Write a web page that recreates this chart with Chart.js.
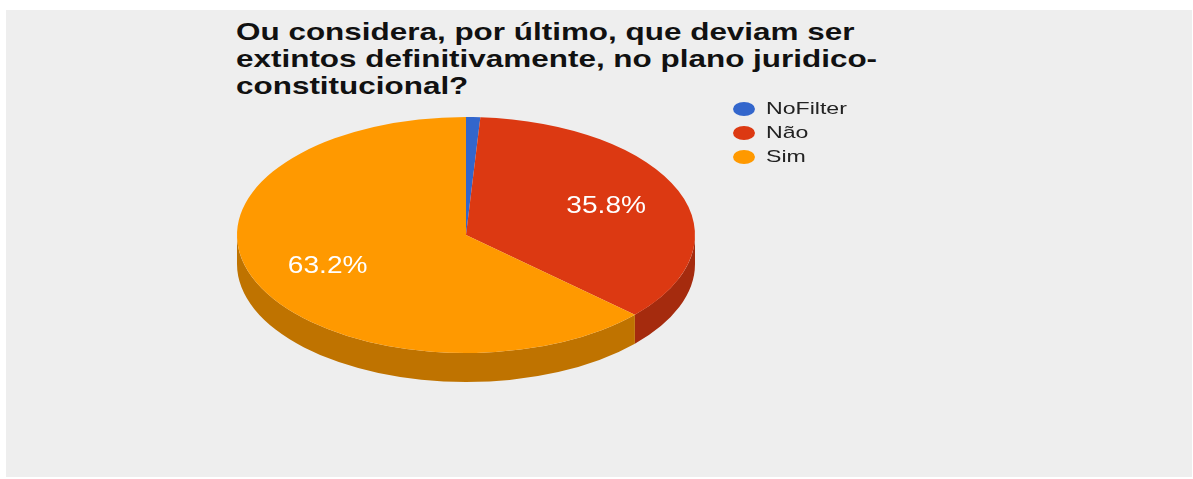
<!DOCTYPE html>
<html>
<head>
<meta charset="utf-8">
<script src="https://cdn.jsdelivr.net/npm/chart.js@4.4.0/dist/chart.umd.min.js"></script>
<style>
  html, body { margin: 0; padding: 0; background: #fff; }
  #frame { position: absolute; left: 6px; top: 10px; width: 1186px; height: 467px; background: #eeeeee; }
  #title { position: absolute; left: 236px; top: 18px; font: bold 24px "Liberation Sans", Arial, sans-serif;
           line-height: 27px; color: #111; white-space: nowrap;
           transform: scaleX(1.31); transform-origin: left top; }
  #c { position: absolute; left: 0; top: 0; }
</style>
</head>
<body>
<div id="frame"></div>
<div id="title">Ou considera, por último, que deviam ser<br>extintos definitivamente, no plano juridico-<br>constitucional?</div>
<canvas id="c" width="1193" height="479"></canvas>
<script>
// ---- dados ----
const labels = ['NoFilter', 'Não', 'Sim'];
const values = [1.0, 35.8, 63.2];

// ---- estilo ----
const topColors = ['#3366cc', '#dc3912', '#ff9900'];
const sideColors = ['#264c99', '#a52b0e', '#bf7300'];
const squash = 118 / 229;   // ellipse ratio of the tilted pie
const depth = 29;           // thickness of the 3d wall

// 3D: draw side walls, then squash the top face
const pie3d = {
  id: 'pie3d',
  beforeDatasetsDraw(chart) {
    const ctx = chart.ctx;
    const arcs = chart.getDatasetMeta(0).data;
    ctx.save();
    arcs.forEach((arc, i) => {
      const p = arc.getProps(['x', 'y', 'startAngle', 'endAngle', 'outerRadius']);
      const a0 = Math.max(p.startAngle, 0);
      const a1 = Math.min(p.endAngle, Math.PI);
      if (a1 <= a0) return;
      ctx.beginPath();
      ctx.ellipse(p.x, p.y, p.outerRadius, p.outerRadius * squash, 0, a0, a1, false);
      ctx.ellipse(p.x, p.y + depth, p.outerRadius, p.outerRadius * squash, 0, a1, a0, true);
      ctx.closePath();
      ctx.fillStyle = sideColors[i];
      ctx.fill();
    });
    ctx.restore();
    const c = arcs[0].getProps(['x', 'y']);
    ctx.save();
    ctx.translate(c.x, c.y);
    ctx.scale(1, squash);
    ctx.translate(-c.x, -c.y);
  },
  afterDatasetsDraw(chart) {
    const ctx = chart.ctx;
    ctx.restore();
    // etiquetas de percentagem
    const arcs = chart.getDatasetMeta(0).data;
    const total = values.reduce((a, b) => a + b, 0);
    ctx.save();
    ctx.fillStyle = '#ffffff';
    ctx.font = '24px "Liberation Sans", Arial, sans-serif';
    ctx.textAlign = 'center';
    ctx.textBaseline = 'middle';
    arcs.forEach((arc, i) => {
      const pct = values[i] / total * 100;
      if (pct < 5) return;
      const p = arc.getProps(['x', 'y', 'startAngle', 'endAngle', 'outerRadius']);
      const mid = (p.startAngle + p.endAngle) / 2;
      const r = p.outerRadius * 0.66;
      const x = p.x + Math.cos(mid) * r;
      const y = p.y + Math.sin(mid) * r * squash;
      ctx.save();
      ctx.translate(x, y);
      ctx.scale(1.17, 1);
      ctx.fillText(pct.toFixed(1) + '%', 0, 0);
      ctx.restore();
    });
    ctx.restore();
  }
};

// legenda
const legend3d = {
  id: 'legend3d',
  afterDraw(chart) {
    const ctx = chart.ctx;
    ctx.save();
    chart.data.labels.forEach((lab, i) => {
      const y = 109 + i * 24;
      ctx.beginPath();
      ctx.ellipse(744, y, 11, 7, 0, 0, Math.PI * 2);
      ctx.fillStyle = topColors[i];
      ctx.fill();
      ctx.save();
      ctx.translate(766, y);
      ctx.scale(1.36, 1);
      ctx.fillStyle = '#222222';
      ctx.font = '17px "Liberation Sans", Arial, sans-serif';
      ctx.textBaseline = 'middle';
      ctx.fillText(lab, 0, 0);
      ctx.restore();
    });
    ctx.restore();
  }
};

new Chart(document.getElementById('c'), {
  type: 'pie',
  data: {
    labels,
    datasets: [{
      data: values,
      backgroundColor: topColors,
      borderWidth: 0,
      clip: false
    }]
  },
  options: {
    responsive: false,
    animation: false,
    events: [],
    layout: { padding: { left: 237, right: 498, top: 6, bottom: 15 } },
    plugins: {
      legend: { display: false },
      title: { display: false },
      tooltip: { enabled: false }
    }
  },
  plugins: [pie3d, legend3d]
});
</script>
</body>
</html>
